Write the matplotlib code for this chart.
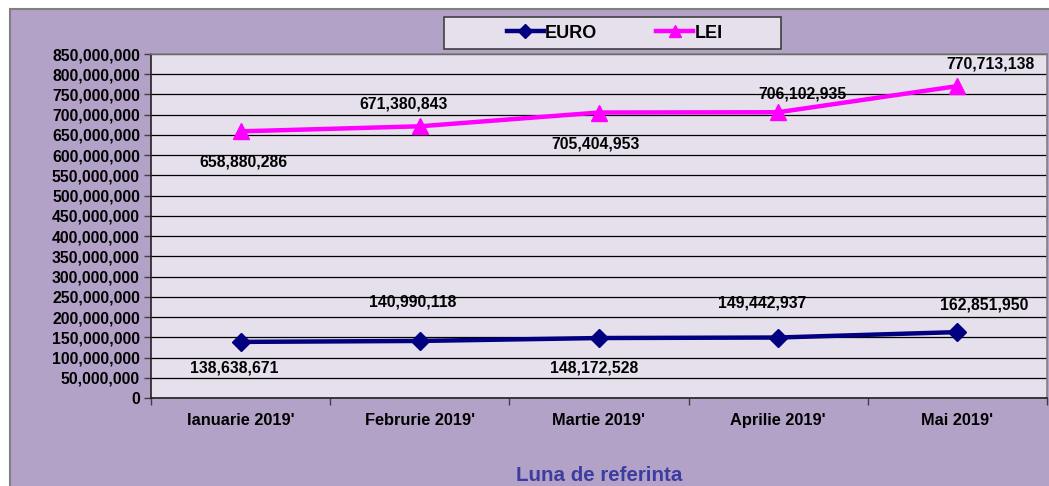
import matplotlib
matplotlib.use("Agg")
import matplotlib.pyplot as plt
from matplotlib.patches import Rectangle
from matplotlib.ticker import FuncFormatter, MultipleLocator, FixedLocator
import numpy as np

plt.rcParams['font.family'] = ['Liberation Sans', 'DejaVu Sans']

categories = ["Ianuarie 2019'", "Februrie 2019'", "Martie 2019'", "Aprilie 2019'", "Mai 2019'"]
euro = [138638671, 140990118, 148172528, 149442937, 162851950]
lei = [658880286, 671380843, 705404953, 706102935, 770713138]

W, H = 1049, 486
fig = plt.figure(figsize=(W / 100, H / 100), dpi=100)
fig.patch.set_facecolor('white')

# outer chart area
fig.patches.append(Rectangle((10 / W, -0.2), 1.2, (H - 9) / H + 0.2, transform=fig.transFigure,
                             facecolor='#B3A2C7', edgecolor='#808080', linewidth=1.5, zorder=-10))

ax = fig.add_axes([151 / W, 1 - 398 / H, 896 / W, 344 / H])
ax.set_zorder(2)
ax.set_facecolor('#E6E0EC')

x = np.arange(len(categories))
ax.plot(x, euro, color='#000080', lw=3.2, marker='D', markersize=9, label='EURO', zorder=3)
ax.plot(x, lei, color='#FF00FF', lw=3.2, marker='^', markersize=11, label='LEI', zorder=3)

ax.set_xlim(-0.5, len(categories) - 0.5)
ax.set_ylim(0, 850000000)
ax.yaxis.set_major_locator(MultipleLocator(50000000))
ax.yaxis.set_major_formatter(FuncFormatter(lambda v, p: f"{v:,.0f}"))
ax.grid(axis='y', color='black', lw=0.9)
ax.set_axisbelow(True)

ax.set_xticks(x)
ax.set_xticklabels(categories)
ax.xaxis.set_minor_locator(FixedLocator(np.arange(-0.5, len(categories), 1.0)))
ax.tick_params(axis='x', which='major', length=0, pad=11)
ax.tick_params(axis='x', which='minor', length=5, width=1, color='#404040')
ax.tick_params(axis='y', length=5, width=1, color='#404040', pad=3)
for lab in ax.get_xticklabels():
    lab.set_fontsize(11.8)
    lab.set_fontweight('bold')
    lab.set_color('black')
for lab in ax.get_yticklabels():
    lab.set_fontsize(11.3)
    lab.set_fontweight('bold')
    lab.set_color('black')

for s in ['top', 'right']:
    ax.spines[s].set_color('#808080')
    ax.spines[s].set_linewidth(1.2)
for s in ['left', 'bottom']:
    ax.spines[s].set_color('#202020')
    ax.spines[s].set_linewidth(1.2)

ax.set_xlabel('Luna de referinta', fontsize=14.8, fontweight='bold', color='#3D3DA0', labelpad=27)

px = 0.72
lei_off = [(3, -31), (-16, 22), (-3, -31), (24, 18), (33, 22)]
euro_off = [(-6, -26), (-7, 39), (-5, -30), (-16, 35), (27, 27)]
for xi, v, (dx, dy) in zip(x, lei, lei_off):
    ax.annotate(f"{v:,}", (xi, v), xytext=(dx * px, dy * px), textcoords='offset points',
                ha='center', va='center', fontsize=11.3, fontweight='bold', zorder=4)
for xi, v, (dx, dy) in zip(x, euro, euro_off):
    ax.annotate(f"{v:,}", (xi, v), xytext=(dx * px, dy * px), textcoords='offset points',
                ha='center', va='center', fontsize=11.3, fontweight='bold', zorder=4)

# legend box
fig.patches.append(Rectangle((444 / W, 1 - 49 / H), 337 / W, 32 / H, transform=fig.transFigure,
                             facecolor='#E6E0EC', edgecolor='#404040', linewidth=1.2, zorder=1))
leg = fig.legend(loc='center', bbox_to_anchor=(614.5 / W, 1 - 33 / H), ncol=2, frameon=False,
                 prop={'size': 13, 'weight': 'bold'}, handlelength=2.05, handletextpad=0.05,
                 columnspacing=3.3, markerscale=0.75, borderpad=0, borderaxespad=0)
leg.set_zorder(5)

fig.savefig('out.png', dpi=100)
